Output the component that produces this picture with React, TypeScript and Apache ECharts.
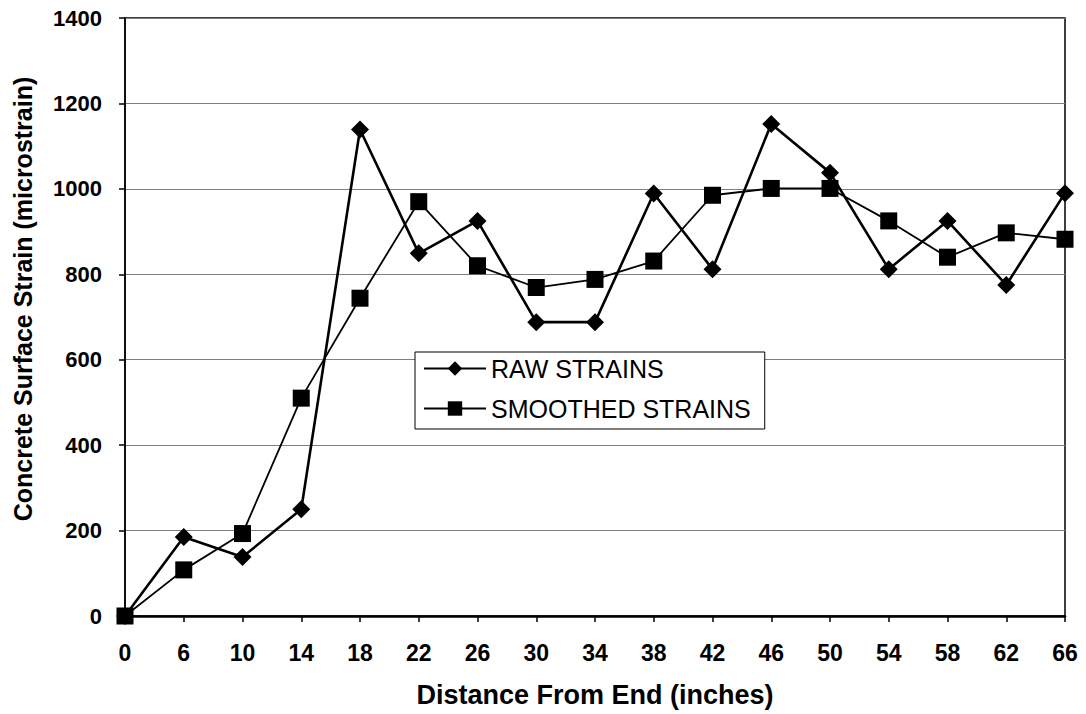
import React, { useEffect, useRef } from "react";
import * as echarts from "echarts";

// Distance from the end of the member, inches
const distances = ["0", "6", "10", "14", "18", "22", "26", "30", "34", "38", "42", "46", "50", "54", "58", "62", "66"];

// Measured concrete surface strain, microstrain
const rawStrains = [0, 185, 138, 250, 1139, 849, 925, 688, 688, 989, 812, 1152, 1038, 812, 925, 775, 990];

// Averaged (smoothed) strain profile, microstrain
const smoothedStrains = [0, 108, 193, 510, 744, 970, 820, 769, 788, 831, 985, 1001, 1001, 925, 840, 897, 882];

const FONT = "'Liberation Sans', Arial, Helvetica, sans-serif";

export default function App() {
  const ref = useRef<HTMLDivElement>(null);

  useEffect(() => {
    if (!ref.current) return;
    const chart = echarts.init(ref.current, null, { renderer: "svg" });
    chart.setOption({
      animation: false,
      backgroundColor: "#ffffff",
      textStyle: { fontFamily: FONT, color: "#000" },
      grid: {
        left: 125,
        right: 21,
        top: 18,
        bottom: 98,
        containLabel: false,
        outerBoundsMode: "none",
        show: true,
        borderColor: "#000",
        borderWidth: 1.5,
        backgroundColor: "transparent",
      },
      legend: {
        orient: "vertical",
        left: 415,
        top: 352,
        backgroundColor: "#fff",
        borderColor: "#000",
        borderWidth: 1,
        borderRadius: 0,
        padding: [4, 14, 8, 8],
        itemGap: 15,
        itemWidth: 62,
        itemHeight: 18,
        textStyle: { fontFamily: FONT, fontSize: 25, color: "#000", lineHeight: 24 },
        data: ["RAW STRAINS", "SMOOTHED STRAINS"],
      },
      xAxis: {
        type: "category",
        data: distances,
        boundaryGap: false,
        name: "Distance From End (inches)",
        nameLocation: "middle",
        nameGap: 65,
        nameTextStyle: { fontFamily: FONT, fontSize: 27, fontWeight: "bold", color: "#000" },
        axisLine: { show: true, lineStyle: { color: "#000", width: 2.5 } },
        axisTick: { show: true, inside: false, length: 6, interval: 0, lineStyle: { color: "#000", width: 1.5 } },
        axisLabel: { interval: 0, margin: 25, fontFamily: FONT, fontSize: 23, fontWeight: "bold", color: "#000" },
        splitLine: { show: false },
      },
      yAxis: {
        type: "value",
        min: 0,
        max: 1400,
        interval: 200,
        name: "Concrete Surface Strain (microstrain)",
        nameLocation: "middle",
        nameGap: 90,
        nameRotate: 90,
        nameTextStyle: {
          fontFamily: FONT,
          fontSize: 25,
          fontWeight: "bold",
          color: "#000",
          padding: [0, 0, 0, 36],
        },
        axisLine: { show: true, lineStyle: { color: "#000", width: 1.5 } },
        axisTick: { show: true, inside: false, length: 6, lineStyle: { color: "#000", width: 1.5 } },
        axisLabel: {
          margin: 23,
          fontFamily: FONT,
          fontSize: 22,
          fontWeight: "bold",
          color: "#000",
          formatter: (v: number) => String(v),
        },
        splitLine: { show: true, lineStyle: { color: "#808080", width: 1 } },
      },
      series: [
        {
          name: "RAW STRAINS",
          type: "line",
          data: rawStrains,
          symbol: "diamond",
          symbolSize: 18,
          showAllSymbol: true,
          lineStyle: { color: "#000", width: 2.6 },
          itemStyle: { color: "#000", borderWidth: 0 },
          z: 3,
        },
        {
          name: "SMOOTHED STRAINS",
          type: "line",
          data: smoothedStrains,
          symbol: "rect",
          symbolSize: 17,
          showAllSymbol: true,
          lineStyle: { color: "#000", width: 1.8 },
          itemStyle: { color: "#000", borderWidth: 0 },
          z: 4,
        },
      ],
    });
    return () => chart.dispose();
  }, []);

  return (
    <div
      ref={ref}
      style={{ position: "fixed", left: 0, top: 0, width: 1086, height: 714, background: "#fff" }}
    />
  );
}
